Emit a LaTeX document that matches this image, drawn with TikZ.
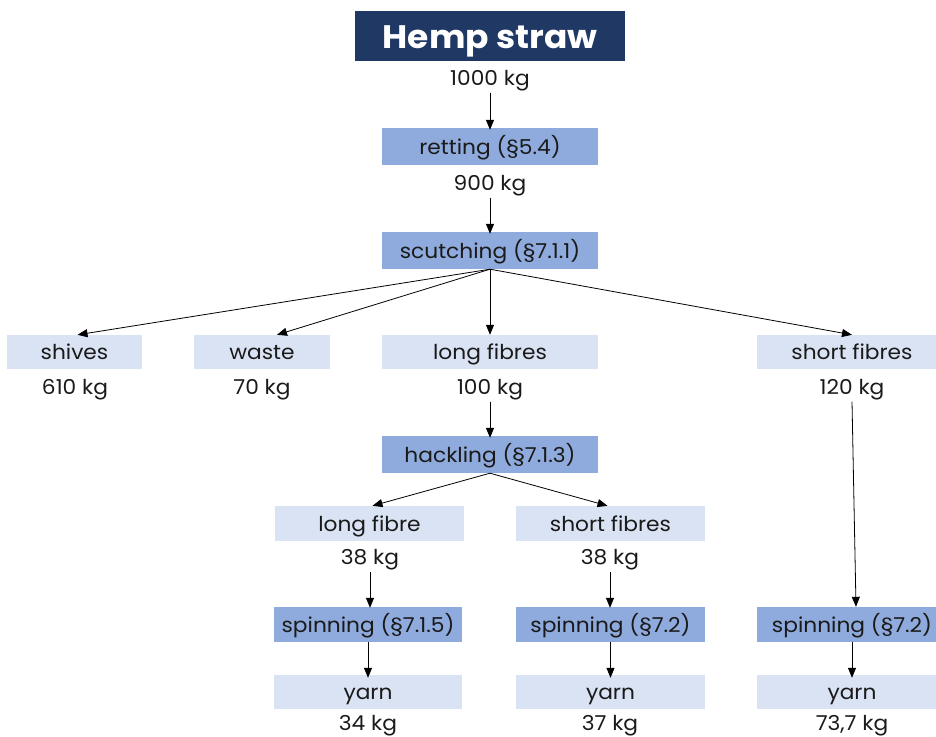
\documentclass[tikz,border=0pt]{standalone}
\usepackage{fontspec}
\setmainfont{Poppins}[FakeStretch=1.06]
\usetikzlibrary{arrows.meta}
\definecolor{navy}{HTML}{203864}
\definecolor{midblue}{HTML}{8FAADC}
\definecolor{lightblue}{HTML}{DAE3F3}
\definecolor{txt}{HTML}{1A1A1A}
\begin{document}
\begin{tikzpicture}[x=1pt,y=-1pt,
  every node/.style={font=\fontsize{20.5}{24}\selectfont, text=txt, inner sep=0pt, text height=15.5pt, text depth=0pt},
  titlebox/.style={fill=navy, text=white, font=\fontsize{32.5}{36}\selectfont\bfseries, text height=24pt, text depth=0pt, minimum width=270pt, minimum height=50pt},
  procbox/.style={fill=midblue, minimum height=37pt},
  prodbox/.style={fill=lightblue, minimum height=34pt},
  kg/.style={minimum height=32pt},
  arr/.style={-{Triangle[length=10pt,width=8pt]}, line width=0.8pt, black}
]
\useasboundingbox (0,0) rectangle (936,736);

\node[titlebox] (hemp) at (490,36) {Hemp straw};
\node[kg] (kg1000) at (490,77.5) {1000 kg};
\node[procbox, minimum width=216pt] (retting) at (490,146.5) {retting (§5.4)};
\node[kg] (kg900) at (490,182.5) {900 kg};
\node[procbox, minimum width=216pt] (scutch) at (490,250.5) {scutching (§7.1.1)};

\node[prodbox, minimum width=135pt] (shives) at (74.5,352) {shives};
\node[prodbox, minimum width=136pt] (waste) at (262,352) {waste};
\node[prodbox, minimum width=216pt] (longf) at (490,352) {long fibres};
\node[prodbox, minimum width=190pt] (shortf) at (852,352) {short fibres};

\node[kg] (kg610) at (75,386.5) {610 kg};
\node[kg] (kg70) at (262,386.5) {70 kg};
\node[kg] (kg100) at (490,386.5) {100 kg};
\node[kg] (kg120) at (852,386.5) {120 kg};

\node[procbox, minimum width=216pt] (hack) at (490,454.5) {hackling (§7.1.3)};

\node[prodbox, minimum width=189pt, minimum height=35pt] (lf2) at (369.5,523.5) {long fibre};
\node[prodbox, minimum width=189pt, minimum height=35pt] (sf2) at (610.5,523.5) {short fibres};
\node[kg] (kg38a) at (370,556.5) {38 kg};
\node[kg] (kg38b) at (610,556.5) {38 kg};

\node[procbox, minimum width=188pt, minimum height=35pt] (spin1) at (368,624.5) {spinning (§7.1.5)};
\node[procbox, minimum width=189pt, minimum height=35pt] (spin2) at (610.5,624.5) {spinning (§7.2)};
\node[procbox, minimum width=190pt, minimum height=35pt] (spin3) at (852,624.5) {spinning (§7.2)};

\node[prodbox, minimum width=188pt] (yarn1) at (368,692) {yarn};
\node[prodbox, minimum width=189pt] (yarn2) at (610.5,692) {yarn};
\node[prodbox, minimum width=190pt] (yarn3) at (852,692) {yarn};

\node[kg] (kg34) at (368,723) {34 kg};
\node[kg] (kg37) at (610,723) {37 kg};
\node[kg] (kg737) at (852,723) {73,7 kg};

\draw[arr] ([yshift=1pt]kg1000.south) -- ([yshift=-2pt]retting.north);
\draw[arr] ([yshift=1pt]kg900.south) -- ([yshift=-2pt]scutch.north);
\draw[arr] (scutch.south) -- ([xshift=3pt]shives.north);
\draw[arr] (scutch.south) -- ([xshift=15pt]waste.north);
\draw[arr] (scutch.south) -- (longf.north);
\draw[arr] (scutch.south) -- (shortf.north);
\draw[arr] ([yshift=1pt]kg100.south) -- ([yshift=-2pt]hack.north);
\draw[arr] (hack.south) -- ([xshift=3pt]lf2.north);
\draw[arr] (hack.south) -- ([xshift=-3pt]sf2.north);
\draw[arr] ([yshift=1pt]kg120.south) -- ([xshift=4pt]spin3.north);
\draw[arr] ([yshift=1pt]kg38a.south) -- ([yshift=-1pt]spin1.north -| kg38a.south);
\draw[arr] ([yshift=1pt]kg38b.south) -- ([yshift=-1pt]spin2.north -| kg38b.south);
\draw[arr] (spin1.south) -- ([yshift=-3pt]yarn1.north);
\draw[arr] (spin2.south) -- ([yshift=-3pt]yarn2.north);
\draw[arr] (spin3.south) -- ([yshift=-3pt]yarn3.north);
\end{tikzpicture}
\end{document}
